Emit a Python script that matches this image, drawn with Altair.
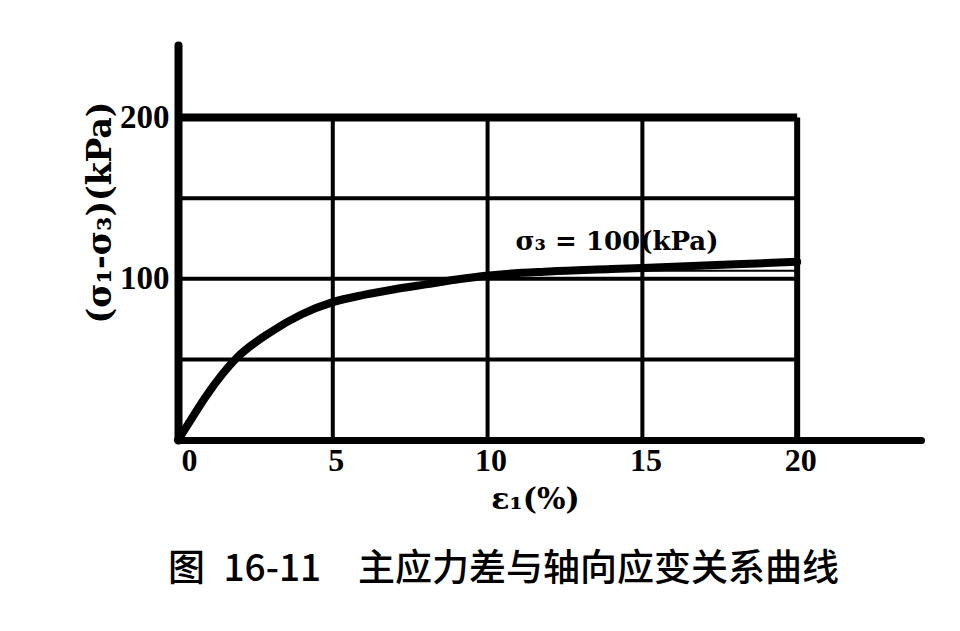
import altair as alt
import pandas as pd

# ---- data ----
strain = [0, 0.4, 0.9, 1.9, 3, 4, 5, 6, 7, 8, 9, 10, 12, 14, 16, 18, 20]
stress = [0, 12, 27, 51, 67, 78, 85.5, 90, 93.5, 96.5, 99.5, 102, 104.5, 106, 107.5, 109, 110.5]

thin_strain = [14, 20]
thin_stress = [105, 105]

grid_x = [5, 10, 15]
grid_y = [50, 100, 150]
frame_x = [20]
frame_y = [200]
grid_top = 200
grid_right = 20

x_ticks = [0, 5, 10, 15, 20]
y_ticks = [100, 200]

label_text = ["σ₃ = 100(kPa)"]
label_x = [10.9]
label_y = [118]

caption = "图\u200216-11\u2002\u2002主应力差与轴向应变关系曲线"

# ---- scales ----
xs = alt.Scale(domain=[0, 24], nice=False, zero=True)
ys = alt.Scale(domain=[0, 245], nice=False, zero=True)

curve_df = pd.DataFrame({"e": strain, "s": stress})
thin_df = pd.DataFrame({"e": thin_strain, "s": thin_stress})
vgrid_df = pd.DataFrame({"x": grid_x, "y0": [0] * len(grid_x), "y1": [grid_top] * len(grid_x)})
hgrid_df = pd.DataFrame({"y": grid_y, "x0": [0] * len(grid_y), "x1": [grid_right] * len(grid_y)})
vframe_df = pd.DataFrame({"x": frame_x, "y0": [0], "y1": [grid_top]})
hframe_df = pd.DataFrame({"y": frame_y, "x0": [0], "x1": [grid_right]})
label_df = pd.DataFrame({"x": label_x, "y": label_y, "t": label_text})

curve = alt.Chart(curve_df).mark_line(
    color="black", strokeWidth=8, interpolate="monotone", strokeCap="round"
).encode(
    x=alt.X(
        "e:Q",
        scale=xs,
        axis=alt.Axis(
            values=x_ticks,
            ticks=False,
            grid=False,
            domainColor="black",
            domainWidth=7,
            domainCap="round",
            labelFont="Liberation Serif",
            labelFontWeight="bold",
            labelFontSize=32,
            labelColor="black",
            labelPadding=5,
            labelOffset=3,
            labelAngle=0,
            title="ε₁(%)",
            titleFont="DejaVu Serif",
            titleFontWeight="bold",
            titleFontSize=30,
            titleColor="black",
            titleX=357,
            titleY=68,
            titleAlign="center",
            titleBaseline="alphabetic",
        ),
    ),
    y=alt.Y(
        "s:Q",
        scale=ys,
        axis=alt.Axis(
            values=y_ticks,
            ticks=False,
            grid=False,
            domainColor="black",
            domainWidth=8,
            domainCap="round",
            labelFont="Liberation Serif",
            labelFontWeight="bold",
            labelFontSize=33,
            labelColor="black",
            labelPadding=9,
            title="(σ₁-σ₃)(kPa)",
            titleFont="DejaVu Serif",
            titleFontWeight="bold",
            titleFontSize=33,
            titleColor="black",
            titleX=-78,
            titleY=167,
            titleAngle=270,
            titleAlign="center",
            titleBaseline="middle",
        ),
    ),
)

vgrid = alt.Chart(vgrid_df).mark_rule(color="black", strokeWidth=4).encode(
    x=alt.X("x:Q", scale=xs),
    y=alt.Y("y0:Q", scale=ys),
    y2="y1:Q",
)
hgrid = alt.Chart(hgrid_df).mark_rule(color="black", strokeWidth=4).encode(
    y=alt.Y("y:Q", scale=ys),
    x=alt.X("x0:Q", scale=xs),
    x2="x1:Q",
)
vframe = alt.Chart(vframe_df).mark_rule(color="black", strokeWidth=6).encode(
    x=alt.X("x:Q", scale=xs),
    y=alt.Y("y0:Q", scale=ys),
    y2="y1:Q",
)
hframe = alt.Chart(hframe_df).mark_rule(color="black", strokeWidth=8).encode(
    y=alt.Y("y:Q", scale=ys),
    x=alt.X("x0:Q", scale=xs),
    x2="x1:Q",
)

thin = alt.Chart(thin_df).mark_line(color="black", strokeWidth=2).encode(
    x=alt.X("e:Q", scale=xs),
    y=alt.Y("s:Q", scale=ys),
)

label = alt.Chart(label_df).mark_text(
    font="DejaVu Serif", fontWeight="bold", fontSize=26, color="black",
    align="left", baseline="alphabetic",
).encode(
    x=alt.X("x:Q", scale=xs),
    y=alt.Y("y:Q", scale=ys),
    text="t:N",
)

chart = alt.layer(curve, vgrid, hgrid, vframe, hframe, thin, label).properties(
    width=743,
    height=395,
    background="white",
    autosize=alt.AutoSizeParams(type="none"),
    padding={"left": 170, "top": 37, "right": 30, "bottom": 175},
    title=alt.TitleParams(
        text=caption,
        orient="bottom",
        anchor="start",
        frame="group",
        font="Noto Sans CJK SC",
        fontSize=37,
        fontWeight=500,
        color="black",
        offset=38,
        dx=-10,
    ),
).configure_view(strokeWidth=0, stroke="transparent")

chart.save("out.html", embed_options={"renderer": "svg", "actions": False})
